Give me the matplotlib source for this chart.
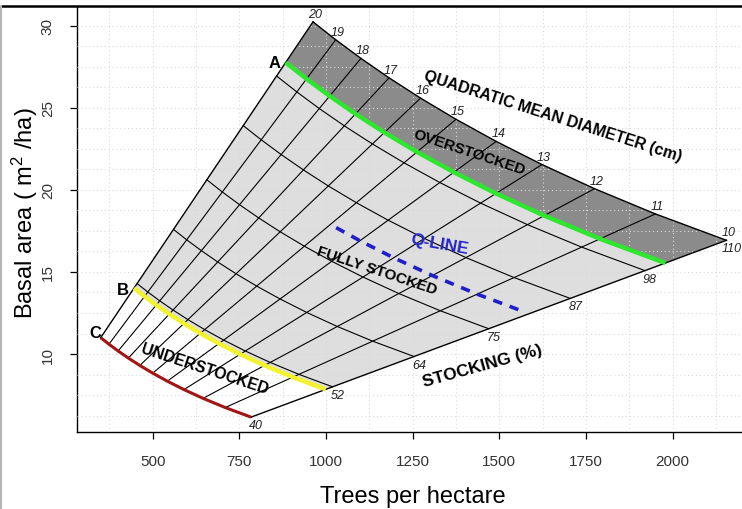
import numpy as np
import matplotlib.pyplot as plt
from matplotlib.ticker import MultipleLocator

plt.rcParams['font.family'] = ['Liberation Sans', 'DejaVu Sans']
plt.rcParams['mathtext.fontset'] = 'custom'
plt.rcParams['mathtext.rm'] = 'Liberation Sans'
plt.rcParams['mathtext.it'] = 'Liberation Sans:italic'

# quadratic mean diameter lines (cm) and stocking levels (%)
diameters = [10, 11, 12, 13, 14, 15, 16, 17, 18, 19, 20]
stocking_levels = [40, 52, 64, 75, 87, 98, 110]
a_line = 101   # green, top of fully stocked
b_line = 51    # yellow
c_line = 40    # red
q_line_stocking = 81
q_line_diam = [10.2, 11, 12, 13, 14, 15]

# stocking (%) = trees/ha * (b0 + b1*D + b2*D^2), coefficients
b0, b1, b2 = 0.00914, 0.003122, 0.0001068


def trees(stock, d):
    d = np.asarray(d, dtype=float)
    return stock / (b0 + b1 * d + b2 * d ** 2)


def basal(n, d):
    d = np.asarray(d, dtype=float)
    return n * np.pi * d ** 2 / 40000.0


def curve(stock, d=diameters):
    n = trees(stock, d)
    return n, basal(n, d)


fig = plt.figure(figsize=(7.42, 5.10), dpi=100)
ax = fig.add_axes([77 / 742, 77 / 510, 665 / 742, 426 / 510])

# shaded zones
nb, bb = curve(b_line)
na, ba = curve(a_line)
nt, bt = curve(stocking_levels[-1])
ax.fill(np.r_[nb, na[::-1]], np.r_[bb, ba[::-1]], color='#dedede', lw=0, zorder=1)
ax.fill(np.r_[na, nt[::-1]], np.r_[ba, bt[::-1]], color='#8b8b8b', lw=0, zorder=1)

# stocking curves
for s in stocking_levels:
    n, b = curve(s)
    lw = 1.0 if s in (stocking_levels[0], stocking_levels[-1]) else 0.8
    ax.plot(n, b, color='black', lw=lw, zorder=3)

# diameter lines
for d in diameters:
    n = trees(np.array([stocking_levels[0], stocking_levels[-1]]), d)
    lw = 1.0 if d in (diameters[0], diameters[-1]) else 0.8
    ax.plot(n, basal(n, d), color='black', lw=lw, zorder=3)

# A, B, C lines
n, b = curve(a_line)
ax.plot(n, b, color='#2ee62e', lw=3.2, zorder=4, solid_capstyle='butt')
n, b = curve(b_line)
ax.plot(n, b, color='#f2f22e', lw=3.2, zorder=4, solid_capstyle='butt')
n, b = curve(c_line)
ax.plot(n, b, color='#a31515', lw=2.2, zorder=4, solid_capstyle='butt')

# Q-line
n, b = curve(q_line_stocking, q_line_diam)
ax.plot(n, b, color='#1f1fc8', lw=2.6, ls=(0, (2.6, 2.2)), zorder=4)

# diameter labels along the top curve
for d, x, y in zip(diameters, *curve(stocking_levels[-1])):
    ax.annotate(str(d), (x, y), xytext=(2, 8), textcoords='offset pixels',
                ha='center', va='center', fontsize=9, style='italic',
                color='#222222', zorder=5)

# stocking labels along the 10 cm line
for s in stocking_levels:
    x, y = curve(s, [diameters[0]])
    ax.annotate(str(s), (x[0], y[0]), xytext=(5, -8), textcoords='offset pixels',
                ha='center', va='center', fontsize=9, style='italic',
                color='#222222', zorder=5)

txt = dict(ha='center', va='center', fontweight='bold', rotation_mode='anchor', zorder=6)
ax.text(1654, 24.5, 'QUADRATIC MEAN DIAMETER (cm)', rotation=-17.6, fontsize=11.4, **txt)
ax.text(1413, 22.3, 'OVERSTOCKED', rotation=-18.4, fontsize=11, **txt)
ax.text(1148, 15.12, 'FULLY STOCKED', rotation=-18.4, fontsize=11, **txt)
ax.text(651, 9.09, 'UNDERSTOCKED', rotation=-18.2, fontsize=11.4, **txt)
ax.text(1452, 9.29, 'STOCKING (%)', rotation=15.5, fontsize=12.5, **txt)
ax.text(1328, 16.75, 'Q-LINE', rotation=-10, fontsize=12.5, color='#2525cc', **txt)
ax.text(853, 27.73, 'A', fontsize=12, **txt)
ax.text(413, 13.9, 'B', fontsize=12, **txt)
ax.text(334, 11.33, 'C', fontsize=12, **txt)

ax.set_xlim(281.6, 2200)
ax.set_ylim(5.25, 31.2)
ax.set_xticks([500, 750, 1000, 1250, 1500, 1750, 2000])
ax.set_yticks([10, 15, 20, 25, 30])
ax.xaxis.set_minor_locator(MultipleLocator(125))
ax.yaxis.set_minor_locator(MultipleLocator(1.25))
ax.set_axisbelow(False)
ax.grid(which='both', color='#dadada', lw=0.8, ls=(0, (1, 2.5)))
ax.tick_params(which='minor', length=0)
ax.tick_params(which='major', length=5, width=0.9, direction='out', pad=11,
               labelsize=11, labelcolor='#333333')
ax.tick_params(axis='y', labelrotation=90)
for lab in ax.get_yticklabels():
    lab.set_va('center')

for side in ('right', 'top'):
    ax.spines[side].set_visible(False)
for side in ('left', 'bottom'):
    ax.spines[side].set_linewidth(1.0)

fig.add_artist(plt.Line2D([0, 1], [1 - 7 / 510, 1 - 7 / 510], color='black', lw=1.8,
                          transform=fig.transFigure))
fig.add_artist(plt.Line2D([0.0015, 0.0015], [0, 1 - 7 / 510], color='#b5b5b5', lw=1.5,
                          transform=fig.transFigure))

fig.text(413 / 742, 1 - 497 / 510, 'Trees per hectare', ha='center', va='center',
         fontsize=17)
fig.text(25 / 742, 1 - 213 / 510, r'Basal area ( m$^2$ /ha)', ha='center', va='center',
         rotation=90, fontsize=17)

fig.savefig('out.png', dpi=100)
